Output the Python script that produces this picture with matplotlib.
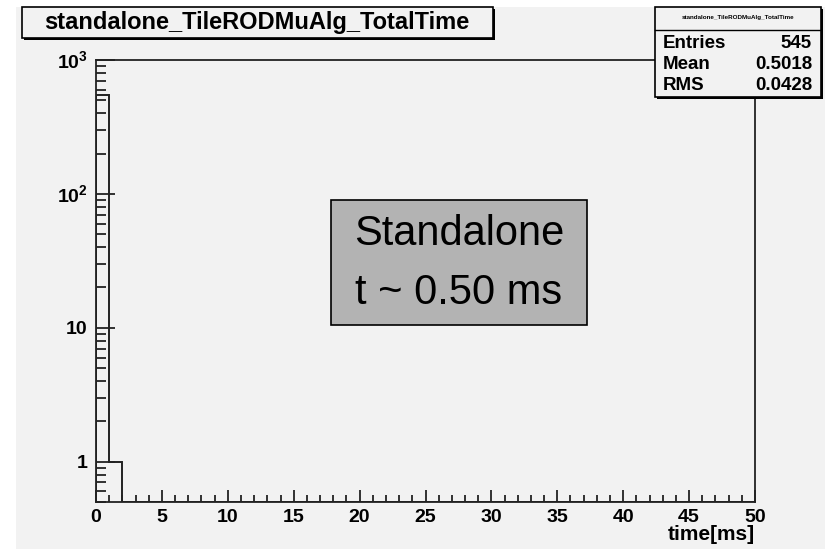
import matplotlib
matplotlib.use("Agg")
import matplotlib.pyplot as plt
from matplotlib.patches import Rectangle
from matplotlib.ticker import FixedLocator, FixedFormatter, NullFormatter
import numpy as np

plt.rcParams['font.family'] = ['Liberation Sans', 'DejaVu Sans']
plt.rcParams['mathtext.fontset'] = 'custom'
plt.rcParams['mathtext.rm'] = 'Liberation Sans:bold'
plt.rcParams['mathtext.bf'] = 'Liberation Sans:bold'

# histogram contents, 1 ms bins from 0 to 50 ms
bin_edges = list(range(0, 51))
counts = [544, 1] + [0] * 48

hist_title = "standalone_TileRODMuAlg_TotalTime"
stat_names = ["Entries", "Mean", "RMS"]
stat_values = ["545", "0.5018", "0.0428"]
x_ticks = [0, 5, 10, 15, 20, 25, 30, 35, 40, 45, 50]
y_ticks = [1, 10, 100, 1000]
y_ticklabels = ["1", "10", r"$10^{2}$", r"$10^{3}$"]
note_lines = ["Standalone", "t ~ 0.50 ms"]

W, H = 825, 549
bg = "#f2f2f2"
fig = plt.figure(figsize=(W / 100, H / 100), dpi=100, facecolor="white")

# overlay in pixel coords for the canvas, boxes, labels
ov = fig.add_axes([0, 0, 1, 1], zorder=0)
ov.set_xlim(0, W)
ov.set_ylim(H, 0)
ov.axis("off")
ov.add_patch(Rectangle((16, 7), W - 16, H - 7, facecolor=bg, edgecolor="none"))

ymin, ymax = 0.5, 1000
ax = fig.add_axes([96 / W, 1 - 502 / H, (755 - 96) / W, (502 - 60) / H], zorder=1)
ax.set_facecolor(bg)
vals = np.where(np.array(counts) > 0, counts, ymin)
ax.stairs(vals, bin_edges, baseline=ymin, color="#222222", linewidth=1.4)
ax.set_yscale("log")
ax.set_xlim(0, 50)
ax.set_ylim(ymin, ymax)

for s in ax.spines.values():
    s.set_linewidth(1.3)
    s.set_color("#222222")

ax.xaxis.set_major_locator(FixedLocator(x_ticks))
ax.xaxis.set_minor_locator(FixedLocator([v for v in range(0, 51) if v % 5]))
ax.set_xticklabels([str(v) for v in x_ticks], fontsize=14, fontweight="bold")
ax.yaxis.set_major_locator(FixedLocator(y_ticks))
minors = [m * d for d in [0.1, 1, 10, 100] for m in range(2, 10) if ymin <= m * d < ymax]
ax.yaxis.set_minor_locator(FixedLocator(minors))
ax.yaxis.set_major_formatter(FixedFormatter(y_ticklabels))
ax.yaxis.set_minor_formatter(NullFormatter())
for lab in ax.get_yticklabels():
    lab.set_fontsize(14)
    lab.set_fontweight("bold")

ax.tick_params(axis="x", which="major", direction="in", length=9, width=1.3, pad=5, colors="#222222", labelcolor="black")
ax.tick_params(axis="x", which="minor", direction="in", length=5, width=1.3, colors="#222222")
ax.tick_params(axis="y", which="major", direction="in", length=14, width=1.3, pad=6, colors="#222222", labelcolor="black")
ax.tick_params(axis="y", which="minor", direction="in", length=7, width=1.3, colors="#222222")

# x axis title
top = fig.add_axes([0, 0, 1, 1], zorder=2)
top.set_xlim(0, W)
top.set_ylim(H, 0)
top.axis("off")
top.text(755, 535, "time[ms]", ha="right", va="center", fontsize=15, fontweight="bold")

# title box with shadow
top.add_patch(Rectangle((24, 9), 471, 31, facecolor="black", edgecolor="none"))
top.add_patch(Rectangle((22, 7), 471, 31, facecolor=bg, edgecolor="black", linewidth=1.2))
top.text(257, 23, hist_title, ha="center", va="center", fontsize=17, fontweight="bold")

# stats box with shadow
top.add_patch(Rectangle((657, 9), 166, 90, facecolor="black", edgecolor="none"))
top.add_patch(Rectangle((655, 7), 166, 90, facecolor=bg, edgecolor="black", linewidth=1.2))
top.plot([655, 821], [30, 30], color="black", linewidth=1.0)
top.text(738, 18, hist_title, ha="center", va="center", fontsize=4.5, fontweight="bold")
for i, (n, v) in enumerate(zip(stat_names, stat_values)):
    y = 43 + i * 21.5
    top.text(663, y, n, ha="left", va="center", fontsize=13.5, fontweight="bold")
    top.text(812, y, v, ha="right", va="center", fontsize=13.5, fontweight="bold")

# annotation box
top.add_patch(Rectangle((331, 200), 256, 125, facecolor="#b3b3b3", edgecolor="black", linewidth=1.2))
for i, line in enumerate(note_lines):
    top.text(459, 234 + i * 59, line, ha="center", va="center", fontsize=30)

fig.savefig("out.png", dpi=100, facecolor="white")
